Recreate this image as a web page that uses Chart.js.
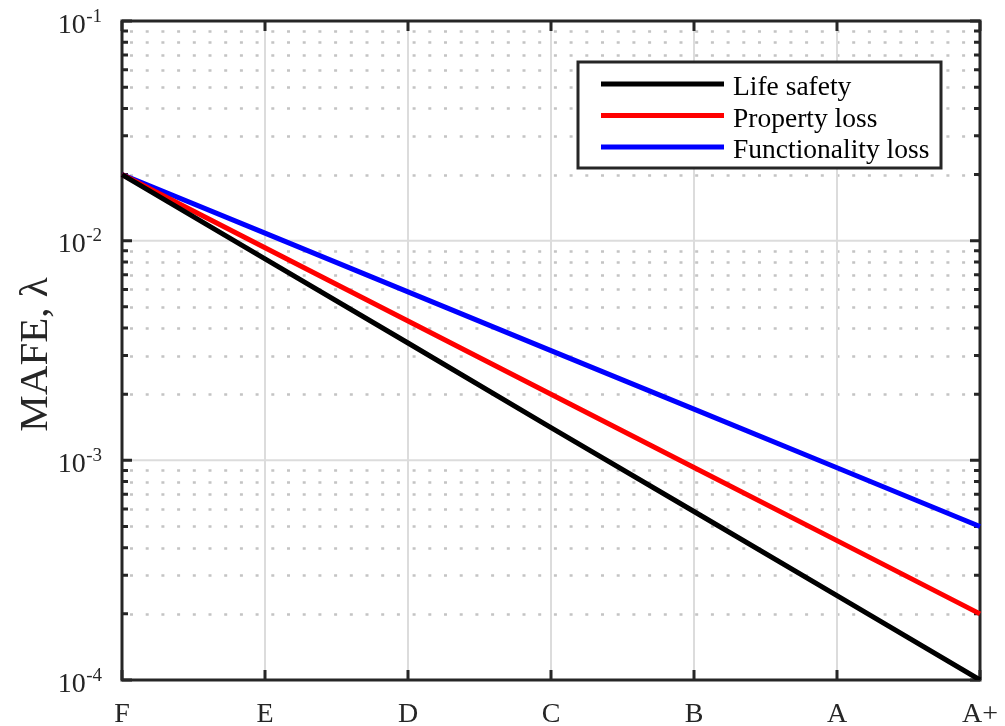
<!DOCTYPE html>
<html>
<head>
<meta charset="utf-8">
<title>MAFE by rating class</title>
<script src="https://cdn.jsdelivr.net/npm/chart.js@4.4.1/dist/chart.umd.min.js"></script>
<style>
  html, body { margin: 0; padding: 0; background: #ffffff; }
  #wrap { position: relative; width: 1005px; height: 726px; }
</style>
</head>
<body>
<div id="wrap"><canvas id="chart"></canvas></div>
<script>
// Rating classes along the horizontal axis
const ratingClasses = ['F', 'E', 'D', 'C', 'B', 'A', 'A+'];

// Mean annual frequency of exceedance for each performance objective
const lifeSafety        = [0.02, 0.00827, 0.00342, 0.00141, 0.000585, 0.000242, 0.0001];
const propertyLoss      = [0.02, 0.00928, 0.00431, 0.00200, 0.000928, 0.000431, 0.0002];
const functionalityLoss = [0.02, 0.01082, 0.00585, 0.00316, 0.00171, 0.000925, 0.0005];

// Decade exponents labelled on the log axis
const decadeExponents = [-4, -3, -2, -1];

const yAxisTitle = 'MAFE, \u03bb';
const FONT = '"Liberation Serif", "Times New Roman", Times, serif';
const AXIS_COLOR = '#262626';

// Draws the MATLAB-style axes frame, grid, tick marks and labels, plus an inset legend
const axesPlugin = {
  id: 'matlabAxes',
  beforeDatasetsDraw(chart) {
    const { ctx, chartArea: a, scales } = chart;
    const xs = scales.x, ys = scales.y;
    ctx.save();

    // minor horizontal grid (dotted) at 2..9 x 10^k
    ctx.strokeStyle = '#c4c4c4';
    ctx.lineWidth = 2.5;
    ctx.setLineDash([3, 12.7]);
    for (let k = -4; k <= -2; k++) {
      for (let m = 2; m <= 9; m++) {
        const v = m * Math.pow(10, k);
        const y = Math.round(ys.getPixelForValue(v)) + 0.5;
        ctx.beginPath();
        ctx.moveTo(a.left + 8, y);
        ctx.lineTo(a.right, y);
        ctx.stroke();
      }
    }
    ctx.setLineDash([]);

    // major grid (solid, light)
    ctx.strokeStyle = '#dcdcdc';
    ctx.lineWidth = 2;
    decadeExponents.forEach(e => {
      const y = ys.getPixelForValue(Math.pow(10, e));
      ctx.beginPath();
      ctx.moveTo(a.left, y);
      ctx.lineTo(a.right, y);
      ctx.stroke();
    });
    ratingClasses.forEach((c, i) => {
      const x = xs.getPixelForValue(i);
      ctx.beginPath();
      ctx.moveTo(x, a.top);
      ctx.lineTo(x, a.bottom);
      ctx.stroke();
    });

    // axes box
    ctx.strokeStyle = AXIS_COLOR;
    ctx.lineWidth = 3;
    ctx.strokeRect(a.left, a.top, a.right - a.left, a.bottom - a.top);

    // tick marks pointing inward
    ctx.lineWidth = 3;
    ratingClasses.forEach((c, i) => {
      const x = xs.getPixelForValue(i);
      ctx.beginPath();
      ctx.moveTo(x, a.bottom); ctx.lineTo(x, a.bottom - 10);
      ctx.moveTo(x, a.top); ctx.lineTo(x, a.top + 10);
      ctx.stroke();
    });
    for (let k = -4; k <= -1; k++) {
      for (let m = 1; m <= 9; m++) {
        const v = m * Math.pow(10, k);
        if (v > ys.max + 1e-12) continue;
        const y = ys.getPixelForValue(v);
        const len = m === 1 ? 10 : 6;
        ctx.beginPath();
        ctx.moveTo(a.left, y); ctx.lineTo(a.left + len, y);
        ctx.moveTo(a.right, y); ctx.lineTo(a.right - len, y);
        ctx.stroke();
      }
    }
    ctx.restore();
  },
  afterDatasetsDraw(chart) {
    const { ctx, chartArea: a, scales } = chart;
    const xs = scales.x, ys = scales.y;
    ctx.save();
    ctx.fillStyle = '#262626';

    // x tick labels
    ctx.font = '28px ' + FONT;
    ctx.textAlign = 'center';
    ctx.textBaseline = 'alphabetic';
    ratingClasses.forEach((c, i) => {
      ctx.fillText(c, xs.getPixelForValue(i), 722);
    });

    // y tick labels: 10 with superscript exponent
    decadeExponents.forEach(e => {
      const y = ys.getPixelForValue(Math.pow(10, e));
      const base = '10', sup = String(e);
      ctx.font = '19px ' + FONT;
      const wSup = ctx.measureText(sup).width;
      ctx.font = '28px ' + FONT;
      const wBase = ctx.measureText(base).width;
      const right = 102;
      ctx.textAlign = 'left';
      ctx.fillText(base, right - wSup - wBase - 0.5, y + 11.5);
      ctx.font = '19px ' + FONT;
      ctx.fillText(sup, right - wSup, y + 0.5);
    });

    // y axis title
    ctx.save();
    ctx.translate(47, (a.top + a.bottom) / 2 + 4);
    ctx.rotate(-Math.PI / 2);
    ctx.font = '41px ' + FONT;
    ctx.textAlign = 'center';
    ctx.textBaseline = 'alphabetic';
    ctx.fillText(yAxisTitle, 0, 0);
    ctx.restore();

    // legend box
    const lx = 578, ly = 62, lw = 363, lh = 106;
    ctx.fillStyle = '#ffffff';
    ctx.fillRect(lx, ly, lw, lh);
    ctx.strokeStyle = AXIS_COLOR;
    ctx.lineWidth = 3;
    ctx.strokeRect(lx, ly, lw, lh);
    ctx.font = '27.5px ' + FONT;
    ctx.textAlign = 'left';
    ctx.textBaseline = 'alphabetic';
    chart.data.datasets.forEach((ds, i) => {
      const ry = 84 + i * 31.5;
      ctx.strokeStyle = ds.borderColor;
      ctx.lineWidth = 5;
      ctx.beginPath();
      ctx.moveTo(601, ry);
      ctx.lineTo(724, ry);
      ctx.stroke();
      ctx.fillStyle = '#000000';
      ctx.fillText(ds.label, 733, ry + 11);
    });
    ctx.restore();
  }
};

new Chart(document.getElementById('chart'), {
  type: 'line',
  data: {
    labels: ratingClasses,
    datasets: [
      { label: 'Life safety',        data: lifeSafety,        borderColor: '#000000' },
      { label: 'Property loss',      data: propertyLoss,      borderColor: '#ff0000' },
      { label: 'Functionality loss', data: functionalityLoss, borderColor: '#0000ff' }
    ]
  },
  options: {
    responsive: true,
    maintainAspectRatio: false,
    animation: false,
    layout: { padding: { left: 122, right: 25, top: 21, bottom: 46 } },
    elements: {
      line: { borderWidth: 5, tension: 0, fill: false, borderCapStyle: 'butt' },
      point: { radius: 0, hoverRadius: 0 }
    },
    plugins: {
      legend: { display: false },
      tooltip: { enabled: false }
    },
    scales: {
      x: { type: 'category', offset: false, display: false },
      y: { type: 'logarithmic', min: 1e-4, max: 1e-1, display: false }
    }
  },
  plugins: [axesPlugin]
});
</script>
</body>
</html>
